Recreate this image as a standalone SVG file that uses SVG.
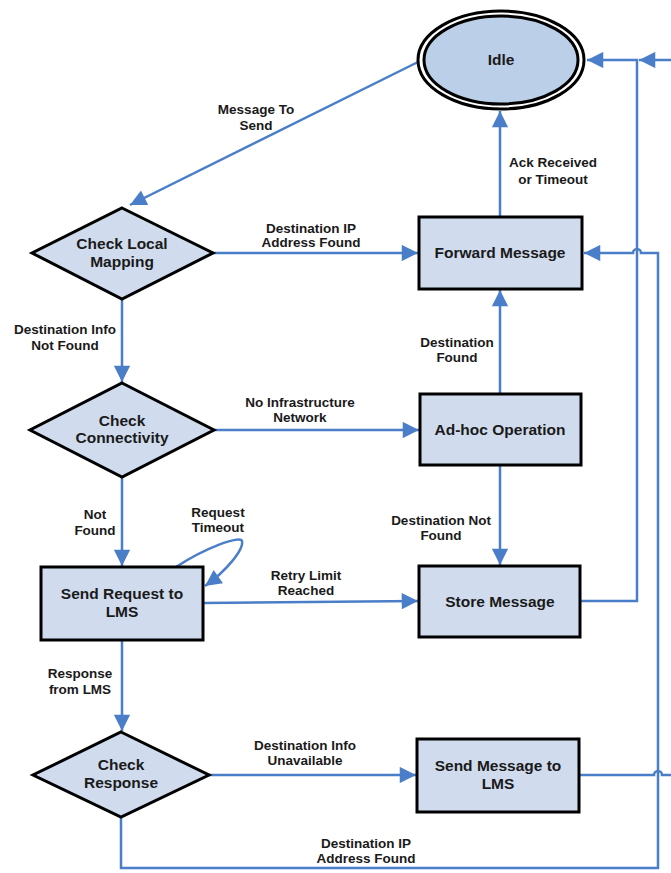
<svg xmlns="http://www.w3.org/2000/svg" width="671" height="873" viewBox="0 0 671 873">
<defs>
<style>
.n{fill:#d0dcee;stroke:#000;stroke-width:3}
.t{font-family:"Liberation Sans",Arial,sans-serif;font-weight:bold;font-size:15.5px;fill:#1a1a1a;text-anchor:middle}
.l{font-family:"Liberation Sans",Arial,sans-serif;font-weight:bold;font-size:13.5px;fill:#1a1a1a;text-anchor:middle}
.c{fill:none;stroke:#4a7ec8;stroke-width:2.5}
</style>
<marker id="a" viewBox="0 0 10 10" refX="10" refY="5" markerWidth="7.5" markerHeight="6.5" markerUnits="strokeWidth" orient="auto">
<path d="M0,0L10,5L0,10z" fill="#4a7ec8"/>
</marker>
</defs>
<rect width="671" height="873" fill="#fff"/>
<g id="connectors">
<path class="c" d="M418,62L130,205" marker-end="url(#a)"/>
<path class="c" d="M213,253L418,253" marker-end="url(#a)"/>
<path class="c" d="M122,299L122,382" marker-end="url(#a)"/>
<path class="c" d="M214,430L419,430" marker-end="url(#a)"/>
<path class="c" d="M500,394L500,290" marker-end="url(#a)"/>
<path class="c" d="M500,217L500,111" marker-end="url(#a)"/>
<path class="c" d="M122,477L122,566" marker-end="url(#a)"/>
<path class="c" d="M176,567C205,548 240,535 242,541C244,550 225,572 205,586" marker-end="url(#a)"/>
<path class="c" d="M500,465L500,565" marker-end="url(#a)"/>
<path class="c" d="M203,603L418,601" marker-end="url(#a)"/>
<path class="c" d="M580,601L637,601L637,60L587,60" marker-end="url(#a)"/>
<path class="c" d="M122,640L122,731" marker-end="url(#a)"/>
<path class="c" d="M209,775L416,775" marker-end="url(#a)"/>
<path class="c" d="M121,817L121,868L658,868L658,253L641,253A4,4 0 0 0 633,253L584,253" marker-end="url(#a)"/>
<path class="c" d="M579,775L654,775A4,4 0 0 1 662,775L671,775"/>
<path class="c" d="M671,60L639,60" marker-end="url(#a)"/>
</g>
<g id="labels">
<text class="l" x="256" y="114">Message To</text>
<text class="l" x="256" y="130">Send</text>
<text class="l" x="311" y="233">Destination IP</text>
<text class="l" x="311" y="247">Address Found</text>
<text class="l" x="65" y="334">Destination Info</text>
<text class="l" x="65" y="350">Not Found</text>
<text class="l" x="300" y="407">No Infrastructure</text>
<text class="l" x="300" y="422">Network</text>
<text class="l" x="457" y="347">Destination</text>
<text class="l" x="457" y="362">Found</text>
<text class="l" x="553" y="167">Ack Received</text>
<text class="l" x="553" y="184">or Timeout</text>
<text class="l" x="95" y="519">Not</text>
<text class="l" x="95" y="535">Found</text>
<text class="l" x="218" y="517">Request</text>
<text class="l" x="218" y="532">Timeout</text>
<text class="l" x="441" y="525">Destination Not</text>
<text class="l" x="441" y="540">Found</text>
<text class="l" x="306" y="580">Retry Limit</text>
<text class="l" x="306" y="595">Reached</text>
<text class="l" x="80" y="678">Response</text>
<text class="l" x="80" y="694">from LMS</text>
<text class="l" x="305" y="750">Destination Info</text>
<text class="l" x="305" y="765">Unavailable</text>
<text class="l" x="366" y="848">Destination IP</text>
<text class="l" x="366" y="863">Address Found</text>
</g>
<g id="idle">
<ellipse cx="501" cy="60" rx="83" ry="49" fill="#fff" stroke="#000" stroke-width="3"/>
<ellipse cx="501" cy="60" rx="77" ry="44" fill="#bccfe8" stroke="#000" stroke-width="3"/>
<text class="t" x="501" y="65">Idle</text>
</g>
<g id="check-local-mapping">
<polygon class="n" points="122,208 213,253 122,299 32,253"/>
<text class="t" x="122" y="249">Check Local</text>
<text class="t" x="122" y="267">Mapping</text>
</g>
<g id="forward-message">
<rect class="n" x="419" y="217" width="163" height="72"/>
<text class="t" x="500" y="258">Forward Message</text>
</g>
<g id="check-connectivity">
<polygon class="n" points="122,383 214,430 122,477 30,430"/>
<text class="t" x="122" y="426">Check</text>
<text class="t" x="122" y="443">Connectivity</text>
</g>
<g id="adhoc-operation">
<rect class="n" x="420" y="394" width="161" height="71"/>
<text class="t" x="500" y="435">Ad-hoc Operation</text>
</g>
<g id="send-request">
<rect class="n" x="41" y="567" width="162" height="73"/>
<text class="t" x="122" y="599">Send Request to</text>
<text class="t" x="122" y="617">LMS</text>
</g>
<g id="store-message">
<rect class="n" x="419" y="566" width="161" height="71"/>
<text class="t" x="500" y="607">Store Message</text>
</g>
<g id="check-response">
<polygon class="n" points="121,732 209,775 121,817 33,775"/>
<text class="t" x="121" y="770">Check</text>
<text class="t" x="121" y="788">Response</text>
</g>
<g id="send-message-lms">
<rect class="n" x="417" y="739" width="162" height="73"/>
<text class="t" x="498" y="771">Send Message to</text>
<text class="t" x="498" y="789">LMS</text>
</g>
</svg>
